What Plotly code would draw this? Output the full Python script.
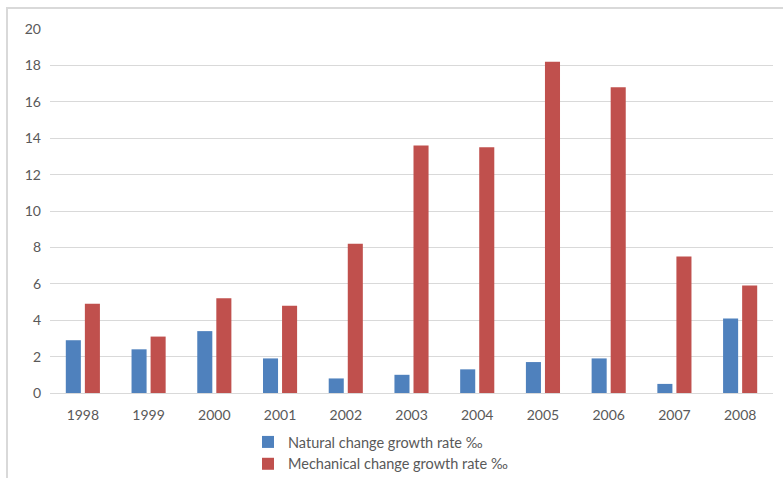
import plotly.graph_objects as go

years = ["1998", "1999", "2000", "2001", "2002", "2003", "2004", "2005", "2006", "2007", "2008"]
natural_rate = [2.9, 2.4, 3.4, 1.9, 0.8, 1.0, 1.3, 1.7, 1.9, 0.5, 4.1]
mechanical_rate = [4.9, 3.1, 5.2, 4.8, 8.2, 13.6, 13.5, 18.2, 16.8, 7.5, 5.9]
y_ticks = [0, 2, 4, 6, 8, 10, 12, 14, 16, 18, 20]

W, H = 783, 478
ML, MR, MT, MB = 50, 10, 29, 85
FONT = "Lato"
TEXT_COLOR = "#595959"
GRID = "#D9D9D9"

fig = go.Figure()
fig.add_trace(go.Bar(x=years, y=natural_rate, name="Natural change growth rate ‰",
                     marker=dict(color="#4F81BD", line=dict(width=0))))
fig.add_trace(go.Bar(x=years, y=mechanical_rate, name="Mechanical change growth rate ‰",
                     marker=dict(color="#C0504D", line=dict(width=0))))

plot_w = W - ML - MR
plot_h = H - MT - MB


def px_x(p):
    return (p - ML) / plot_w


def px_y(p):
    return (H - MB - p) / plot_h


# light outer frame around the chart area
fig.add_shape(type="rect", xref="paper", yref="paper",
              x0=px_x(7), x1=px_x(800), y0=px_y(8), y1=px_y(500),
              line=dict(color="#D9D9D9", width=2), fillcolor="rgba(0,0,0,0)", layer="below")

fig.update_layout(
    width=W, height=H,
    margin=dict(l=ML, r=MR, t=MT, b=MB, autoexpand=False),
    paper_bgcolor="white", plot_bgcolor="white",
    barmode="group", bargap=0.42, bargroupgap=0.21,
    font=dict(family=FONT, size=14, color=TEXT_COLOR),
    showlegend=True,
    legend=dict(orientation="v", x=px_x(248), xanchor="left", y=px_y(426), yanchor="top",
                font=dict(size=14.5, color=TEXT_COLOR), tracegroupgap=0, itemwidth=30,
                bgcolor="rgba(0,0,0,0)"),
    xaxis=dict(showgrid=False, showline=False, zeroline=False, ticks="", automargin=False,
               ticklabelstandoff=12, tickfont=dict(size=14, color=TEXT_COLOR)),
    yaxis=dict(range=[0, 20], tickvals=y_ticks, showgrid=True, gridcolor=GRID, gridwidth=1.3,
               zeroline=True, zerolinecolor=GRID, zerolinewidth=1.3, showline=False, ticks="",
               automargin=False, ticklabelstandoff=8, tickfont=dict(size=14, color=TEXT_COLOR)),
)

fig.write_html("out.html")
